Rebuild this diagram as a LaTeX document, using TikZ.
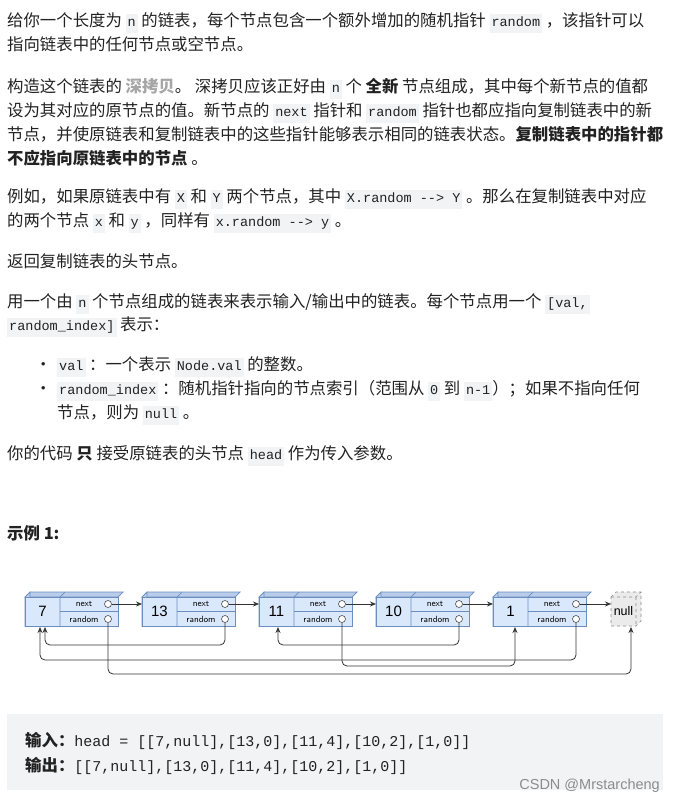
\documentclass[tikz,border=0pt]{standalone}
\usepackage{fontspec}
\setmainfont{Noto Sans CJK SC}
\setmonofont{Liberation Mono}
\newfontfamily\latf{Liberation Sans}
\usetikzlibrary{arrows.meta}
\definecolor{cbg}{HTML}{F2F3F5}
\definecolor{txt}{HTML}{222222}
\definecolor{nfill}{HTML}{DAE8FC}
\definecolor{nside}{HTML}{B9CDEB}
\definecolor{ndraw}{HTML}{6C8EBF}
\newcommand{\cd}[1]{{\setlength\fboxsep{2pt}\colorbox{cbg}{\ttfamily\fontsize{13.5}{15}\selectfont\strut #1}}}
\tikzset{
  line/.style={anchor=base west,inner sep=0pt,text=txt,font=\fontsize{16.4}{19}\selectfont},
  conn/.style={draw=black!80,line width=0.8pt,rounded corners=5pt,-{Stealth[length=6pt,width=5pt]}},
  face/.style={fill=nfill,draw=ndraw,line width=0.7pt},
  sface/.style={fill=nside,draw=ndraw,line width=0.7pt},
  small/.style={font=\sffamily\fontsize{9}{10}\selectfont,inner sep=0pt},
  ring/.style={circle,draw=black!70,fill=white,minimum size=7pt,inner sep=0pt,line width=0.6pt}
}
\newcommand{\lnode}[3]{%
  \fill[sface] (#1,597) -- (#1+5,592) -- (#1+98,592) -- (#1+93,597) -- cycle;
  \fill[sface] (#1,597) -- (#1+5,592) -- (#1+5,621) -- (#1,626) -- cycle;
  \draw[face] (#1,597) rectangle (#1+93,626);
  \draw[ndraw,line width=0.7pt] (#1+35,597) -- (#1+35,626) (#1+35,611.5) -- (#1+93,611.5) (#1+35,597)--(#1+40,592);
  \node[font=\latf\fontsize{15}{17}\selectfont] (#2) at (#1+17.5,611.5) {#3};
  \node[small] at (#1+59,604) {next};
  \node[small] at (#1+59,619) {random};
  \node[ring] (#2nx) at (#1+83,604) {};
  \node[ring] (#2rd) at (#1+83,619) {};
  \coordinate (#2in) at (#1,604);
}
\begin{document}
\begin{tikzpicture}[x=1pt,y=-1pt]
\useasboundingbox (0,0) rectangle (675,803);
\fill[white] (0,0) rectangle (675,803);
\node[line] (l1) at (7,26) {给你一个长度为 \cd{n} 的链表，每个节点包含一个额外增加的随机指针 \cd{random} ，该指针可以};
\node[line] (l2) at (7,50) {指向链表中的任何节点或空节点。};
\node[line] (l3) at (7,92) {构造这个链表的 \textbf{\color{gray!70}深拷贝}。 深拷贝应该正好由 \cd{n} 个 \textbf{全新} 节点组成，其中每个新节点的值都};
\node[line] (l4) at (7,116) {设为其对应的原节点的值。新节点的 \cd{next} 指针和 \cd{random} 指针也都应指向复制链表中的新};
\node[line] (l5) at (7,140) {节点，并使原链表和复制链表中的这些指针能够表示相同的链表状态。\textbf{复制链表中的指针都}};
\node[line] (l6) at (7,164) {\textbf{不应指向原链表中的节点} 。};
\node[line] (l7) at (7,202) {例如，如果原链表中有 \cd{X} 和 \cd{Y} 两个节点，其中 \cd{X.random -{}-> Y} 。那么在复制链表中对应};
\node[line] (l8) at (7,226) {的两个节点 \cd{x} 和 \cd{y} ，同样有 \cd{x.random -{}-> y} 。};
\node[line] (l9) at (7,267) {返回复制链表的头节点。};
\node[line] (l10) at (7,307) {用一个由 \cd{n} 个节点组成的链表来表示输入/输出中的链表。每个节点用一个 \cd{[val,}};
\node[line] (l11) at (7,330) {\cd{random\_index]} 表示：};
\node[line] (b1) at (35,370) {•};
\node[line] (l12) at (57,370) {\cd{val} ：一个表示 \cd{Node.val} 的整数。};
\node[line] (b2) at (35,394) {•};
\node[line] (l13) at (57,394) {\cd{random\_index} ：随机指针指向的节点索引（范围从 \cd{0} 到 \cd{n-1}）；如果不指向任何};
\node[line] (l14) at (57,418) {节点，则为 \cd{null} 。};
\node[line] (l15) at (7,459) {你的代码 \textbf{只} 接受原链表的头节点 \cd{head} 作为传入参数。};
\node[line] (l16) at (7,539) {\textbf{示例 1:}};
% diagram
\lnode{25}{a}{7}
\lnode{142}{b}{13}
\lnode{259}{c}{11}
\lnode{376}{d}{10}
\lnode{493}{e}{1}
\fill[black!8,draw=black!45,dashed,line width=0.6pt] (611,597) -- (616,592) -- (641,592) -- (641,621) -- (636,626) -- (611,626) -- cycle;
\draw[black!45,dashed,line width=0.6pt] (611,597) -- (636,597) -- (641,592) (636,597) -- (636,626);
\node[font=\latf\fontsize{12.5}{14}\selectfont] (nl) at (623.5,611.5) {null};
\coordinate (nlin) at (611,604);
\foreach \s/\t in {a/b,b/c,c/d,d/e,e/nl} \draw[conn] (\s nx) -- (\t in);
\coordinate (nlb) at (631,627); \coordinate (a1) at (45,627); \coordinate (a2) at (40,627);
\coordinate (cb) at (278,627); \coordinate (eb) at (515,627);
\draw[conn] (ard) -- ++(0,55) -| (nlb);
\draw[conn] (brd) -- ++(0,26) -| (a1);
\draw[conn] (erd) -- ++(0,41) -| (a2);
\draw[conn] (crd) -- ++(0,47) -| (eb);
\draw[conn] (drd) -- ++(0,26) -| (cb);
% example box
\fill[cbg] (7,714) rectangle (663,790);
\node[line] (in) at (25,746) {\textbf{输入：}\ttfamily\fontsize{15}{17}\selectfont head = [[7,null],[13,0],[11,4],[10,2],[1,0]]};
\node[line] (out) at (25,771) {\textbf{输出：}\ttfamily\fontsize{15}{17}\selectfont [[7,null],[13,0],[11,4],[10,2],[1,0]]};
\node[anchor=base east,inner sep=0pt,text=black!45,font=\latf\fontsize{14.5}{16}\selectfont] (wm) at (660,789) {CSDN @Mrstarcheng};
\end{tikzpicture}
\end{document}
